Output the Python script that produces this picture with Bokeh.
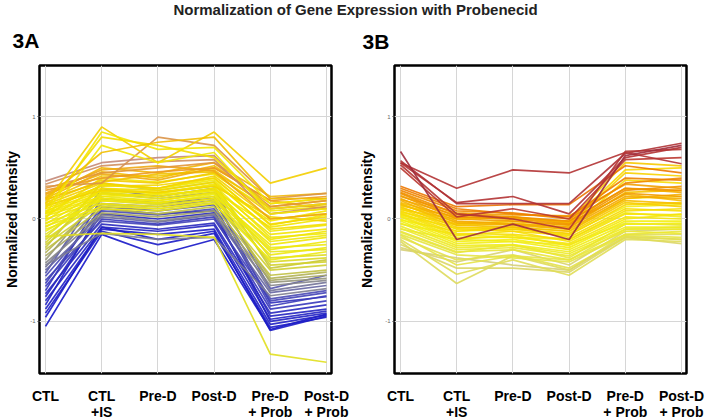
from bokeh.plotting import figure
from bokeh.models import ColumnDataSource, Range1d, FixedTicker, LinearColorMapper
from bokeh.layouts import column, row
from bokeh.core.properties import value
from bokeh.embed import file_html
from bokeh.resources import INLINE

TITLE = "Normalization of Gene Expression with Probenecid"
PANEL_TAGS = ["3A", "3B"]
CATEGORIES = ["CTL", "CTL\n+IS", "Pre-D", "Post-D", "Pre-D\n+ Prob", "Post-D\n+ Prob"]
X_POS = [0, 1, 2, 3, 4, 5]
Y_TICKS = [-1, 0, 1]
Y_TICK_LABELS = {-1: "-1", 0: "0", 1: "1"}
Y_LABEL = "Normalized Intensity"

# ---- Panel 3A: one value per gene profile for each condition ----
A_CTL = [-1.05, -0.96, -0.92, -0.88, -0.84, -0.80, -0.76, -0.73, -0.70, -0.66, -0.63, -0.60, -0.56, -0.53, -0.50, -0.47, -0.45,
         -0.43, -0.40, -0.36, -0.33, -0.30, -0.28, -0.25, -0.23, -0.20, -0.18, -0.15,
         -0.12, -0.10, -0.08, -0.07, -0.05, -0.04, -0.02, 0.00, 0.02, 0.03, 0.05, 0.06, 0.07, 0.08, 0.10, 0.12, 0.13, 0.14, 0.16, 0.18, 0.19, 0.20, 0.22, 0.24,
         0.25, 0.28, 0.30, 0.32, 0.34, 0.37,
         0.15, 0.05, 0.10, 0.00, 0.20, -0.17]
A_CTL_IS = [-0.15, -0.08, -0.12, -0.10, 0.10, -0.08, 0.05, -0.05, 0.20, 0.00, 0.12, -0.02, 0.08, 0.30, 0.02, 0.15, -0.14,
            0.04, 0.25, 0.06, 0.20, 0.10, 0.35, 0.14, 0.26, 0.18, 0.30, 0.22,
            0.20, 0.10, 0.24, 0.12, 0.28, 0.15, 0.34, 0.18, 0.40, 0.20, 0.22, 0.25, 0.33, 0.27, 0.30, 0.32, 0.28, 0.35, 0.38, 0.42, 0.36, 0.46, 0.50, 0.44,
            0.48, 0.40, 0.45, 0.35, 0.52, 0.55,
            0.90, 0.85, 0.80, 0.72, 0.65, -0.14]
A_PRE_D = [-0.35, -0.20, -0.25, -0.15, 0.05, -0.12, 0.00, -0.10, 0.15, -0.05, 0.08, -0.06, 0.04, 0.22, -0.03, 0.12, -0.20,
           -0.02, 0.20, 0.02, 0.16, 0.05, 0.28, 0.10, 0.22, 0.14, 0.25, 0.18,
           0.15, 0.08, 0.20, 0.10, 0.26, 0.12, 0.30, 0.16, 0.36, 0.18, 0.24, 0.22, 0.30, 0.25, 0.28, 0.33, 0.26, 0.30, 0.35, 0.42, 0.44, 0.40, 0.45, 0.38,
           0.52, 0.46, 0.50, 0.80, 0.56, 0.60,
           0.55, 0.68, 0.72, 0.55, 0.75, -0.15]
A_POST_D = [-0.20, -0.12, -0.14, -0.10, 0.08, -0.06, 0.06, -0.04, 0.20, 0.02, 0.14, 0.00, 0.10, 0.30, 0.04, 0.18, -0.18,
            0.05, 0.26, 0.08, 0.22, 0.12, 0.36, 0.16, 0.30, 0.20, 0.32, 0.25,
            0.24, 0.15, 0.28, 0.18, 0.33, 0.20, 0.38, 0.22, 0.44, 0.26, 0.28, 0.30, 0.40, 0.34, 0.36, 0.40, 0.32, 0.42, 0.45, 0.48, 0.46, 0.52, 0.55, 0.50,
            0.47, 0.50, 0.55, 0.72, 0.58, 0.62,
            0.85, 0.70, 0.60, 0.65, 0.80, -0.18]
A_PRE_D_PROB = [-1.08, -1.09, -1.06, -1.03, -1.00, -0.98, -0.95, -0.92, -0.82, -0.88, -0.85, -0.80, -0.78, -0.68, -0.72, -0.70, -0.75,
                -0.65, -0.62, -0.60, -0.58, -0.55, -0.48, -0.50, -0.45, -0.42, -0.38, -0.32,
                -0.28, -0.40, -0.22, -0.35, -0.18, -0.30, -0.12, -0.25, 0.08, -0.20, -0.08, -0.15, -0.06, -0.02, -0.10, -0.05, 0.02, 0.00, 0.05, 0.10, 0.12, 0.15, 0.22, 0.18,
                0.00, 0.18, 0.12, 0.20, 0.05, 0.10,
                0.35, 0.15, 0.10, 0.05, 0.20, -1.32]
A_POST_D_PROB = [-0.93, -0.95, -0.96, -0.94, -0.92, -0.90, -0.88, -0.84, -0.76, -0.80, -0.75, -0.72, -0.70, -0.55, -0.65, -0.62, -0.68,
                 -0.60, -0.58, -0.55, -0.52, -0.50, -0.40, -0.45, -0.42, -0.38, -0.35, -0.30,
                 -0.25, -0.32, -0.16, -0.28, -0.14, -0.22, -0.06, -0.18, 0.12, -0.12, 0.00, -0.10, 0.04, 0.08, -0.05, 0.02, -0.02, 0.05, 0.10, 0.14, 0.18, 0.20, 0.25, 0.10,
                 0.05, 0.22, 0.18, 0.25, 0.12, 0.15,
                 0.50, 0.20, 0.15, 0.10, 0.20, -1.40]

# ---- Panel 3B ----
B_CTL = [-0.30, -0.28, -0.25, -0.22, -0.20, -0.18, -0.16, -0.15, -0.13,
         -0.12, -0.10, -0.09, -0.07, -0.05, -0.04, -0.02, -0.01, 0.00, 0.02, 0.03, 0.04, 0.05, 0.06, 0.07, 0.08, 0.09, 0.10, 0.11, 0.12, 0.13, 0.14,
         0.15, 0.16, 0.18, 0.19, 0.20, 0.22, 0.23, 0.25, 0.26, 0.28, 0.30, 0.32,
         0.50, 0.53, 0.55, 0.57, 0.55, 0.66]
B_CTL_IS = [-0.38, -0.42, -0.48, -0.63, -0.54, -0.40, -0.45, -0.35, -0.33,
            -0.32, -0.20, -0.30, -0.28, -0.15, -0.26, -0.24, -0.12, -0.22, -0.20, -0.18, -0.09, -0.16, -0.14, -0.06, -0.12, 0.00, -0.10, -0.05, -0.08, 0.02, -0.03,
            -0.06, 0.01, -0.04, 0.04, -0.02, 0.06, 0.00, 0.02, 0.05, 0.08, 0.10, 0.12,
            0.02, 0.05, 0.16, 0.15, 0.30, -0.20]
B_PRE_D = [-0.45, -0.30, -0.48, -0.36, -0.40, -0.35, -0.36, -0.38, -0.25,
           -0.30, -0.22, -0.28, -0.26, -0.18, -0.25, -0.22, -0.10, -0.20, -0.16, -0.18, -0.08, -0.12, -0.15, -0.05, -0.08, 0.02, -0.12, -0.02, -0.10, 0.00, -0.04,
           -0.08, 0.02, -0.06, 0.01, -0.05, 0.04, -0.02, 0.00, 0.02, 0.06, 0.05, 0.14,
           0.10, 0.00, 0.22, 0.15, 0.48, -0.05]
B_POST_D = [-0.50, -0.45, -0.52, -0.50, -0.55, -0.48, -0.40, -0.42, -0.38,
            -0.40, -0.25, -0.36, -0.34, -0.20, -0.32, -0.30, -0.15, -0.28, -0.26, -0.24, -0.12, -0.22, -0.20, -0.10, -0.18, -0.04, -0.16, -0.06, -0.14, -0.02, -0.08,
            -0.12, -0.04, -0.10, -0.03, -0.08, 0.03, -0.06, -0.05, -0.02, 0.00, 0.02, 0.14,
            0.00, -0.10, 0.05, 0.15, 0.45, -0.20]
B_PRE_D_PROB = [-0.17, -0.12, -0.18, -0.15, -0.20, -0.18, -0.10, -0.16, -0.05,
                -0.15, -0.04, -0.12, -0.10, 0.06, -0.08, -0.05, 0.12, -0.02, 0.00, 0.02, 0.20, 0.05, 0.08, 0.38, 0.10, 0.48, 0.14, 0.45, 0.16, 0.55, 0.26,
                0.18, 0.24, 0.20, 0.30, 0.22, 0.34, 0.25, 0.28, 0.30, 0.35, 0.40, 0.52,
                0.58, 0.66, 0.60, 0.64, 0.65, 0.62]
B_POST_D_PROB = [-0.20, -0.10, -0.24, -0.15, -0.22, -0.20, -0.08, -0.18, -0.05,
                 -0.12, -0.06, -0.14, -0.10, 0.02, -0.08, -0.04, 0.14, -0.02, 0.05, 0.00, 0.22, 0.04, 0.10, 0.35, 0.08, 0.50, 0.16, 0.42, 0.12, 0.52, 0.28,
                 0.15, 0.18, 0.24, 0.26, 0.20, 0.30, 0.22, 0.32, 0.28, 0.40, 0.38, 0.45,
                 0.60, 0.68, 0.70, 0.74, 0.54, 0.72]

# colour scales (CTL value -> colour), as in the original software
A_COLOR_STOPS = [(-1.05, "#1616c8"), (-0.75, "#2626c0"), (-0.55, "#4c4cb4"), (-0.42, "#8c8c86"),
                 (-0.28, "#c8c838"), (-0.12, "#ecea14"), (0.08, "#f4e400"), (0.20, "#f2c000"),
                 (0.28, "#ec9a20"), (0.37, "#c48a78")]
B_COLOR_STOPS = [(-0.30, "#d6cf78"), (-0.15, "#e6e444"), (0.00, "#f4ee10"), (0.10, "#f8d600"),
                 (0.20, "#f4a800"), (0.32, "#ec7800"), (0.45, "#c23a2c"), (0.66, "#a02c3c")]

FONT = "Liberation Sans"
PAGE_W, PAGE_H = 710, 420
FIG_W = 355
FRAME_W = 292
LEFT = 39
RIGHT = FIG_W - LEFT - FRAME_W
HEAD_H = 55
TOP = 10
FRAME_H = 308
PANEL_H = TOP + FRAME_H + 2
LABEL_H = PAGE_H - HEAD_H - PANEL_H
X_LO, X_HI = -0.107, 5.089


def ramp(stops, n=256):
    low, high = stops[0][0], stops[-1][0]
    out = []
    for i in range(n):
        v = low + (high - low) * i / (n - 1)
        for (v0, c0), (v1, c1) in zip(stops, stops[1:]):
            if v <= v1:
                break
        t = 0.0 if v1 == v0 else min(max((v - v0) / (v1 - v0), 0.0), 1.0)
        rgb = [round(int(c0[k:k + 2], 16) * (1 - t) + int(c1[k:k + 2], 16) * t) for k in (1, 3, 5)]
        out.append("#%02x%02x%02x" % tuple(rgb))
    return out


def panel(cols, stops):
    p = figure(width=FIG_W, height=PANEL_H, x_range=Range1d(X_LO, X_HI), y_range=Range1d(-1.51, 1.50),
               toolbar_location=None, output_backend="svg", x_axis_location=None,
               min_border_left=LEFT, min_border_right=RIGHT,
               min_border_top=TOP, min_border_bottom=2)
    p.frame_align = False
    src = ColumnDataSource(dict(
        xs=[list(X_POS) for _ in cols[0]],
        ys=[list(r) for r in zip(*cols)],
        shade=list(cols[0]),
    ))
    mapper = LinearColorMapper(palette=ramp(stops), low=stops[0][0], high=stops[-1][0])
    p.multi_line("xs", "ys", source=src, line_color={"field": "shade", "transform": mapper},
                 line_width=1.7, line_alpha=0.9)

    p.outline_line_color = "black"
    p.outline_line_width = 2.5

    p.yaxis.ticker = FixedTicker(ticks=Y_TICKS)
    p.yaxis.major_label_overrides = Y_TICK_LABELS
    p.yaxis.major_label_text_font = FONT
    p.yaxis.major_label_text_font_size = "6px"
    p.yaxis.major_label_text_color = "#666666"
    p.yaxis.major_label_standoff = 2
    p.yaxis.major_tick_out = 2
    p.yaxis.major_tick_in = 0
    p.yaxis.major_tick_line_color = "#444444"
    p.yaxis.minor_tick_line_color = None
    p.yaxis.axis_line_color = None
    p.yaxis.axis_label = Y_LABEL
    p.yaxis.axis_label_text_font = FONT
    p.yaxis.axis_label_text_font_style = "bold"
    p.yaxis.axis_label_text_font_size = "14px"
    p.yaxis.axis_label_text_color = "black"
    p.yaxis.axis_label_standoff = 7

    p.xgrid.ticker = FixedTicker(ticks=X_POS)
    p.xgrid.grid_line_color = "#d6d6d6"
    p.ygrid.grid_line_color = "#d6d6d6"

    # category labels under the panel, on the same x scale as the panel frame
    scale = FRAME_W / (X_HI - X_LO)
    lf = figure(width=FIG_W, height=LABEL_H,
                x_range=Range1d(X_LO - LEFT / scale, X_HI + RIGHT / scale), y_range=Range1d(LABEL_H, 0),
                toolbar_location=None, output_backend="svg", x_axis_type=None, y_axis_type=None,
                min_border=0)
    lf.frame_align = False
    lf.outline_line_color = None
    lsrc = ColumnDataSource(dict(x=X_POS, y=[12] * len(X_POS), text=CATEGORIES))
    lf.text("x", "y", "text", source=lsrc, text_font=value(FONT), text_font_style="bold",
            text_font_size="14px", text_color="black", text_align="center",
            text_baseline="top", text_line_height=1.05)
    return column(p, lf)


# heading strip: main title and the two panel tags
head = figure(width=PAGE_W, height=HEAD_H, x_range=Range1d(0, PAGE_W), y_range=Range1d(HEAD_H, 0),
              toolbar_location=None, output_backend="svg", x_axis_type=None, y_axis_type=None,
              min_border=0)
head.frame_align = False
head.outline_line_color = None
head.text(x=[PAGE_W / 2], y=[0], text=[TITLE], text_font=value(FONT), text_font_style="bold",
          text_font_size="15px", text_color="#222222", text_align="center", text_baseline="top")
head.text(x=[12, 362], y=[28, 29], text=PANEL_TAGS, text_font=value(FONT), text_font_style="bold",
          text_font_size="21px", text_color="black", text_align="left", text_baseline="top")

pa = panel([A_CTL, A_CTL_IS, A_PRE_D, A_POST_D, A_PRE_D_PROB, A_POST_D_PROB], A_COLOR_STOPS)
pb = panel([B_CTL, B_CTL_IS, B_PRE_D, B_POST_D, B_PRE_D_PROB, B_POST_D_PROB], B_COLOR_STOPS)

layout = column(head, row(pa, pb))
open("out.html", "w").write(file_html(layout, INLINE))
